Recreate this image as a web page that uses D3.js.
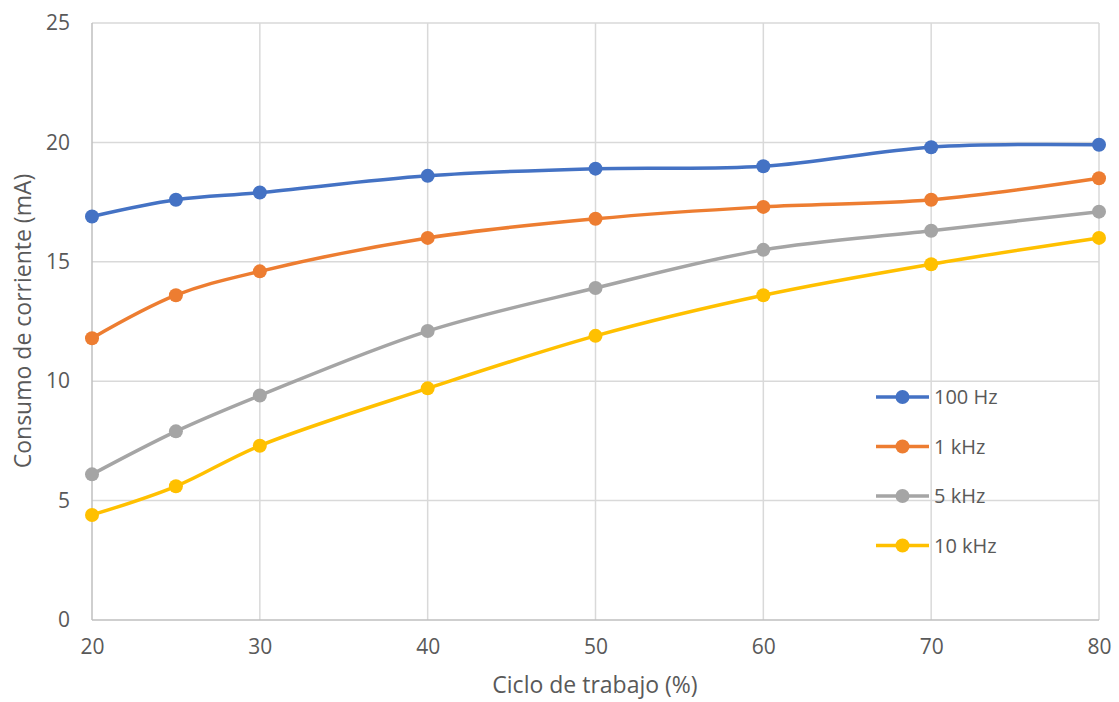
<!DOCTYPE html>
<html>
<head>
<meta charset="utf-8">
<script src="https://cdn.jsdelivr.net/npm/d3@7"></script>
<style>
  body { margin: 0; background: #fff; }
  svg text { font-family: "Open Sans", sans-serif; fill: #595959; }
</style>
</head>
<body>
<div id="chart"></div>
<script>
// Data
const ciclo = [20, 25, 30, 40, 50, 60, 70, 80];
const hz100 = [16.9, 17.6, 17.9, 18.6, 18.9, 19.0, 19.8, 19.9];
const khz1 = [11.8, 13.6, 14.6, 16.0, 16.8, 17.3, 17.6, 18.5];
const khz5 = [6.1, 7.9, 9.4, 12.1, 13.9, 15.5, 16.3, 17.1];
const khz10 = [4.4, 5.6, 7.3, 9.7, 11.9, 13.6, 14.9, 16.0];
const seriesNames = ["100 Hz", "1 kHz", "5 kHz", "10 kHz"];
const colors = ["#4472C4", "#ED7D31", "#A5A5A5", "#FFC000"];
const xTicks = [20, 30, 40, 50, 60, 70, 80];
const yTicks = [0, 5, 10, 15, 20, 25];

const width = 1119;
const height = 702;
const margin = { top: 23, right: 20, bottom: 82, left: 92 };

const svg = d3.select("#chart")
  .append("svg")
  .attr("width", width)
  .attr("height", height);

const x = d3.scaleLinear()
  .domain([20, 80])
  .range([margin.left, 1099]);

const y = d3.scaleLinear()
  .domain([0, 25])
  .range([620, margin.top]);

// gridlines
svg.append("g")
  .selectAll("line.h")
  .data(yTicks.slice(1))
  .enter()
  .append("line")
  .attr("x1", x(20))
  .attr("x2", x(80))
  .attr("y1", d => y(d))
  .attr("y2", d => y(d))
  .attr("stroke", "#D9D9D9")
  .attr("stroke-width", 1.5);

svg.append("g")
  .selectAll("line.v")
  .data(xTicks.slice(1))
  .enter()
  .append("line")
  .attr("x1", d => x(d))
  .attr("x2", d => x(d))
  .attr("y1", y(0))
  .attr("y2", y(25))
  .attr("stroke", "#D9D9D9")
  .attr("stroke-width", 1.5);

// axis lines
svg.append("line")
  .attr("x1", x(20)).attr("x2", x(20))
  .attr("y1", y(0)).attr("y2", y(25))
  .attr("stroke", "#BFBFBF").attr("stroke-width", 1.5);
svg.append("line")
  .attr("x1", x(20)).attr("x2", x(80))
  .attr("y1", y(0)).attr("y2", y(0))
  .attr("stroke", "#BFBFBF").attr("stroke-width", 1.5);

// tick labels
const xAxis = svg.append("g")
  .attr("transform", `translate(0, ${y(0)})`)
  .call(d3.axisBottom(x).tickValues(xTicks).tickSize(0).tickPadding(19));
xAxis.select(".domain").remove();
xAxis.selectAll("text")
  .style("font-size", "21px")
  .attr("fill", "#595959");

const yAxis = svg.append("g")
  .attr("transform", `translate(${x(20)}, 0)`)
  .call(d3.axisLeft(y).tickValues(yTicks).tickSize(0).tickPadding(22));
yAxis.select(".domain").remove();
yAxis.selectAll("text")
  .style("font-size", "21px")
  .attr("fill", "#595959");

// axis titles
svg.append("text")
  .attr("x", 595)
  .attr("y", 693)
  .attr("text-anchor", "middle")
  .style("font-size", "23px")
  .text("Ciclo de trabajo (%)");

svg.append("text")
  .attr("transform", "translate(31, 321) rotate(-90)")
  .attr("text-anchor", "middle")
  .style("font-size", "23px")
  .text("Consumo de corriente (mA)");

// series
const allSeries = [hz100, khz1, khz5, khz10];

const line = d3.line()
  .x((d, i) => x(ciclo[i]))
  .y(d => y(d))
  .curve(d3.curveCatmullRom.alpha(0.5));

allSeries.forEach((vals, s) => {
  svg.append("path")
    .datum(vals)
    .attr("d", line)
    .attr("fill", "none")
    .attr("stroke", colors[s])
    .attr("stroke-width", 3.5);

  svg.append("g")
    .selectAll("circle")
    .data(vals)
    .enter()
    .append("circle")
    .attr("cx", (d, i) => x(ciclo[i]))
    .attr("cy", d => y(d))
    .attr("r", 7)
    .attr("fill", colors[s]);
});

// legend
const legend = svg.append("g")
  .attr("transform", "translate(876, 397)");

seriesNames.forEach((name, i) => {
  const row = legend.append("g")
    .attr("transform", `translate(0, ${i * 49.5})`);
  row.append("line")
    .attr("x1", 0).attr("x2", 53)
    .attr("y1", 0).attr("y2", 0)
    .attr("stroke", colors[i])
    .attr("stroke-width", 3.5);
  row.append("circle")
    .attr("cx", 26.5)
    .attr("cy", 0)
    .attr("r", 7)
    .attr("fill", colors[i]);
  row.append("text")
    .attr("x", 58)
    .attr("y", 0)
    .attr("dy", "0.35em")
    .style("font-size", "20px")
    .text(name);
});
</script>
</body>
</html>
